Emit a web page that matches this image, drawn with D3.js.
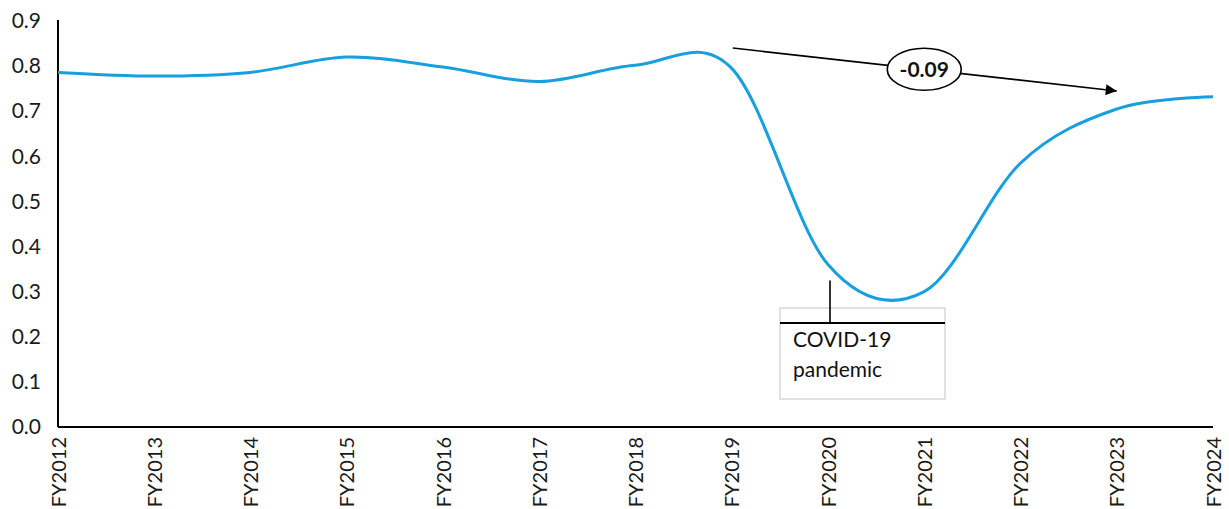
<!DOCTYPE html>
<html>
<head>
<meta charset="utf-8">
<script src="https://cdn.jsdelivr.net/npm/d3@7"></script>
<style>
  html, body { margin: 0; padding: 0; background: #ffffff; }
  svg { display: block; font-family: Lato, "Open Sans", sans-serif; }
</style>
</head>
<body>
<svg id="chart" width="1229" height="509"></svg>
<script>
const categories = ["FY2012","FY2013","FY2014","FY2015","FY2016","FY2017","FY2018","FY2019","FY2020","FY2021","FY2022","FY2023","FY2024"];
const values = [0.786, 0.778, 0.786, 0.820, 0.798, 0.766, 0.802, 0.795, 0.360, 0.300, 0.585, 0.705, 0.732];
const yTicks = [0.0, 0.1, 0.2, 0.3, 0.4, 0.5, 0.6, 0.7, 0.8, 0.9];
const changeLabel = "-0.09";
const arrowFrom = { cat: "FY2019", value: 0.84 };
const arrowTo = { cat: "FY2023", value: 0.745 };
const badgeAt = { cat: "FY2021", value: 0.793 };
const covidPoint = { cat: "FY2020", value: 0.325 };
const covidLines = ["COVID-19", "pandemic"];

(function () {
const svg = d3.select("#chart");
const mLeft = 58, mRight = 1213, mTop = 21, mBottom = 427;

const x = d3.scalePoint().domain(categories).range([mLeft, mRight]);
const y = d3.scaleLinear().domain([0, 0.9]).range([mBottom, mTop]);

// Y axis
const yAxis = d3.axisLeft(y).tickValues(yTicks).tickFormat(d3.format(".1f")).tickSize(0).tickPadding(17);
const gy = svg.append("g").attr("transform", `translate(${mLeft},0)`).call(yAxis);
gy.select(".domain").attr("stroke", "#000").attr("stroke-width", 2).attr("d", `M0,${mTop - 1}V${mBottom}`);
gy.selectAll("text").attr("font-size", 21).attr("fill", "#1a1a1a").attr("font-family", "Lato, sans-serif");

// X axis
const xAxis = d3.axisBottom(x).tickSize(0).tickPadding(0);
const gx = svg.append("g").attr("transform", `translate(0,${mBottom})`).call(xAxis);
gx.select(".domain").attr("stroke", "#000").attr("stroke-width", 2).attr("d", `M${mLeft},0H${mRight}`);
gx.selectAll("text")
  .attr("font-size", 20).attr("fill", "#1a1a1a").attr("font-family", "Lato, sans-serif")
  .attr("transform", "rotate(-90)")
  .attr("text-anchor", "end")
  .attr("x", -10).attr("y", 0).attr("dy", "0.35em");

// Line
const line = d3.line()
  .x((d, i) => x(categories[i]))
  .y(d => y(d))
  .curve(d3.curveCardinal.tension(0));
svg.append("path").datum(values)
  .attr("d", line)
  .attr("fill", "none")
  .attr("stroke", "#179fe0")
  .attr("stroke-width", 3);

// Arrow annotation
const defs = svg.append("defs");
defs.append("marker").attr("id", "arrow")
  .attr("viewBox", "0 0 10 10").attr("refX", 10).attr("refY", 5)
  .attr("markerWidth", 13).attr("markerHeight", 11).attr("markerUnits", "userSpaceOnUse")
  .attr("orient", "auto")
  .append("path").attr("d", "M0,0L10,5L0,10Z").attr("fill", "#000");

svg.append("line")
  .attr("x1", x(arrowFrom.cat) + 1).attr("y1", y(arrowFrom.value))
  .attr("x2", x(arrowTo.cat)).attr("y2", y(arrowTo.value))
  .attr("stroke", "#000").attr("stroke-width", 1.6)
  .attr("marker-end", "url(#arrow)");

const bx = x(badgeAt.cat), by = y(badgeAt.value);
svg.append("ellipse").attr("cx", bx).attr("cy", by).attr("rx", 37).attr("ry", 21)
  .attr("fill", "#fff").attr("stroke", "#000").attr("stroke-width", 1.6);
svg.append("text").attr("x", bx).attr("y", by).attr("dy", "0.36em")
  .attr("text-anchor", "middle").attr("font-weight", "bold").attr("font-size", 21)
  .attr("fill", "#111").text(changeLabel);

// COVID callout
const cx = x(covidPoint.cat) + 2;
const boxLeft = cx - 50, boxRight = cx + 115, boxTop = 308, boxBottom = 399, barY = 323;
svg.append("rect").attr("x", boxLeft).attr("y", boxTop).attr("width", boxRight - boxLeft).attr("height", boxBottom - boxTop)
  .attr("fill", "#fff").attr("stroke", "#c4c4c4").attr("stroke-width", 1);
svg.append("line").attr("x1", boxLeft).attr("x2", boxRight).attr("y1", barY).attr("y2", barY)
  .attr("stroke", "#000").attr("stroke-width", 2);
svg.append("line").attr("x1", cx).attr("x2", cx).attr("y1", y(covidPoint.value)).attr("y2", barY)
  .attr("stroke", "#000").attr("stroke-width", 1.6);
covidLines.forEach((t, i) => {
  svg.append("text").attr("x", boxLeft + 13).attr("y", 347 + i * 30)
    .attr("font-size", 21).attr("fill", "#111").text(t);
});
})();
</script>
</body>
</html>
